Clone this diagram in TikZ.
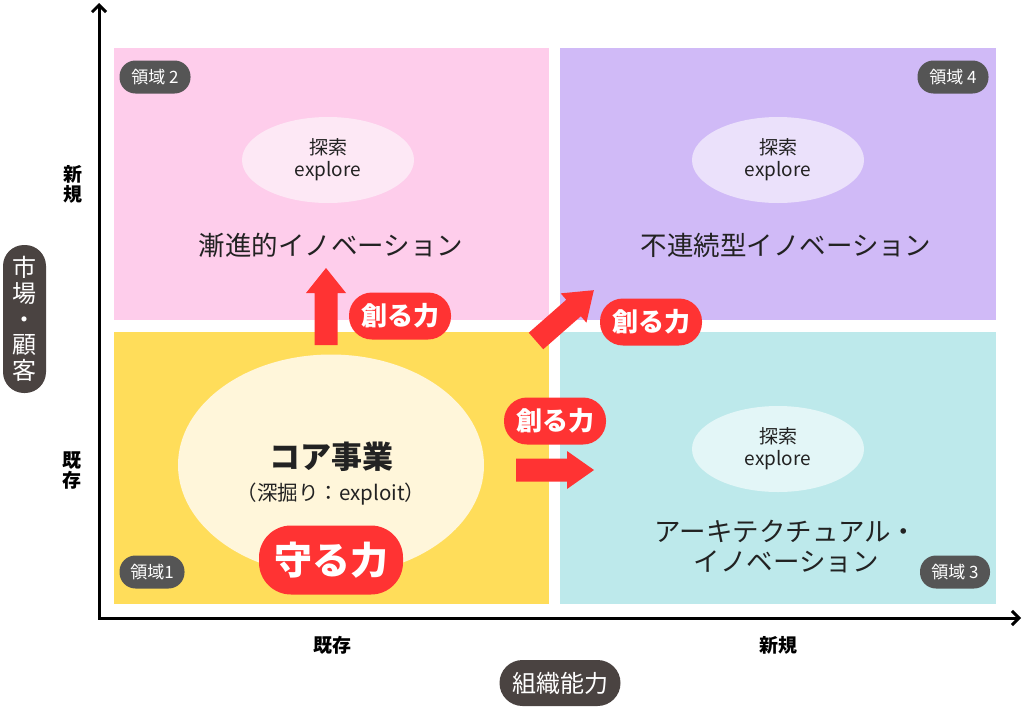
\documentclass[tikz,border=0pt]{standalone}
\usepackage{fontspec}
\setmainfont{Noto Sans CJK JP}
\usetikzlibrary{arrows.meta,shapes.geometric}
\definecolor{pinkq}{HTML}{FECDEB}
\definecolor{purpq}{HTML}{D0BAF7}
\definecolor{yellq}{HTML}{FFDD5A}
\definecolor{cyanq}{HTML}{BDE9EB}
\definecolor{pinke}{HTML}{FDE8F5}
\definecolor{purpe}{HTML}{EBE1FB}
\definecolor{cyane}{HTML}{E3F6F7}
\definecolor{corec}{HTML}{FFF6DA}
\definecolor{redc}{HTML}{FF3333}
\definecolor{tagc}{HTML}{555555}
\definecolor{pillc}{HTML}{4A4341}
\definecolor{txt}{HTML}{222222}
\begin{document}
\begin{tikzpicture}[x=1pt,y=-1pt,
  quad/.style={rectangle, inner sep=0, anchor=north west, minimum width=435, minimum height=272},
  explore/.style={ellipse, inner sep=0, minimum width=172, minimum height=86, align=center, text=txt, font=\fontsize{19}{22}\selectfont},
  title/.style={font=\fontsize{26.5}{30}\selectfont, text=txt, align=center},
  tag/.style={rectangle, rounded corners=16pt, fill=tagc, text=white, minimum height=33, minimum width=70, inner sep=0, font=\fontsize{17}{20}\selectfont},
  sozo/.style={rectangle, rounded corners=23pt, fill=redc, text=white, minimum width=102, minimum height=47, inner sep=0, font=\bfseries\fontsize{26}{30}\selectfont},
  axlab/.style={font=\bfseries\fontsize{19}{20}\selectfont, align=center, text=black},
  axpill/.style={rectangle, fill=pillc, text=white, inner sep=0, align=center, font=\fontsize{24}{25.6}\selectfont},
  axisline/.style={line width=3pt, line join=miter, {Straight Barb[length=7pt,width=14pt]}-{Straight Barb[length=7pt,width=14pt]}}
]
\useasboundingbox (0,0) rectangle (1024,707);
\fill[white] (0,0) rectangle (1024,707);

% quadrants
\node[quad, fill=pinkq] (q2) at (114,48) {};
\node[quad, fill=purpq, minimum width=436] (q4) at (560,48) {};
\node[quad, fill=yellq] (q1) at (114,332) {};
\node[quad, fill=cyanq, minimum width=436] (q3) at (560,332) {};

% axes
\coordinate (ytip) at (99,3);
\coordinate (orig) at (99,618);
\coordinate (xtip) at (1021,618);
\draw[axisline] (ytip) -- (orig) -- (xtip);

% axis labels
\node[axlab] (ynew) at (73,184) {新\\規};
\node[axlab] (yold) at (72,471) {既\\存};
\node[axlab] (xold) at (332,645) {既存};
\node[axlab] (xnew) at (778,645) {新規};
\node[axpill, rounded corners=21pt, minimum width=43, minimum height=148] (mk) at (24.5,319) {市\\場\\・\\顧\\客};
\node[axpill, rounded corners=23pt, minimum width=121, minimum height=46] (org) at (560,683) {組織能力};

% explore ellipses
\node[explore, fill=pinke] (e2) at (328,160) {探索\\explore};
\node[explore, fill=purpe] (e4) at (778,160) {探索\\explore};
\node[explore, fill=cyane] (e3) at (778,449) {探索\\explore};

% titles
\node[title] (t2) at (331,245) {漸進的イノベーション};
\node[title] (t4) at (786,245) {不連続型イノベーション};
\node[title] (t3) at (786,547) {アーキテクチュアル・\\イノベーション};

% core
\node[ellipse, fill=corec, minimum width=306, minimum height=221, inner sep=0] (core) at (331,465) {};
\node[font=\bfseries\fontsize{31}{34}\selectfont, text=txt] (coret) at (331,457) {コア事業};
\node[font=\fontsize{20.5}{23}\selectfont, text=txt] (cores) at (331,494) {（深掘り：exploit）};

% block arrows
\fill[redc] (314.5,345) -- (314.5,293) -- (306,293) -- (326,268) -- (346,293) -- (337.5,293) -- (337.5,345) -- cycle;
\fill[redc] (516,458.5) -- (567,458.5) -- (567,451) -- (594,470) -- (567,489) -- (567,481.5) -- (516,481.5) -- cycle;
\begin{scope}[shift={(536,341)}, rotate=41.3]
  \fill[redc] (0,-11) -- (50,-11) -- (50,-19.5) -- (77,0) -- (50,19.5) -- (50,11) -- (0,11) -- cycle;
\end{scope}

% labels
\node[sozo] (c1) at (400,316) {創る力};
\node[sozo] (c2) at (651,322) {創る力};
\node[sozo] (c3) at (555,421) {創る力};
\node[sozo, rounded corners=32pt, minimum width=144, minimum height=69, font=\bfseries\fontsize{38}{42}\selectfont] (mamoru) at (331,560) {守る力};

% region tags
\node[tag, minimum width=71] (r2) at (155,77) {領域 2};
\node[tag, minimum width=71] (r4) at (953,77) {領域 4};
\node[tag, minimum width=65] (r1) at (152,572) {領域1};
\node[tag, minimum width=70] (r3) at (955,572) {領域 3};
\end{tikzpicture}
\end{document}
